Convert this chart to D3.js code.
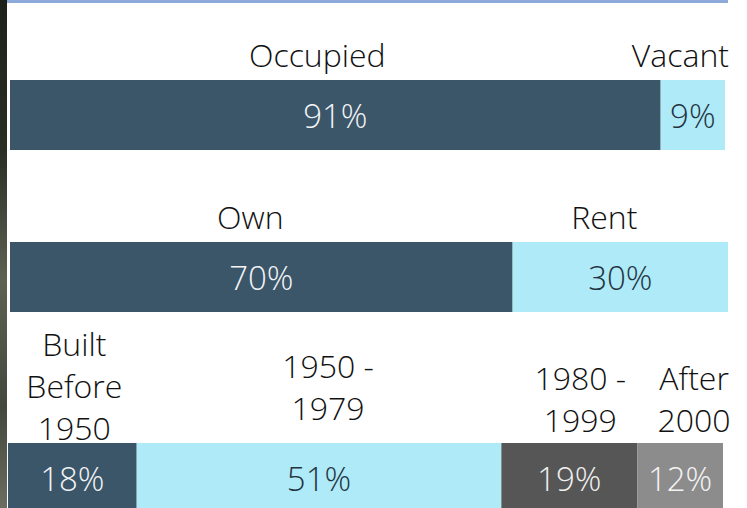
<!DOCTYPE html>
<html>
<head>
<meta charset="utf-8">
<script src="https://cdn.jsdelivr.net/npm/d3@7"></script>
<style>
  body { margin: 0; background: #fff; }
  svg { display: block; }
  text { font-family: "Open Sans", "Segoe UI", sans-serif; font-weight: 300; }
</style>
</head>
<body>
<div id="chart"></div>
<script>
// occupancy
const occupancyLabels = [['Occupied'], ['Vacant']]
const occupancyValues = [91, 9]

// tenure
const tenureLabels = [['Own'], ['Rent']]
const tenureValues = [70, 30]

// year built
const builtLabels = [['Built', 'Before', '1950'], ['1950 -', '1979'], ['1980 -', '1999'], ['After', '2000']]
const builtValues = [18, 51, 19, 12]

const W = 747, H = 508

// styling per row (nudge/lift = hand placement of the category labels)
const rows = [
  {labels: occupancyLabels, values: occupancyValues, fills: ['#3b5569', '#aeeaf8'], inks: ['#f2f4f6', '#24343f'],
    nudge: [-18, 0], lift: [0, 0], top: 80, x0: 10, x1: 725, edge: 729, labelGap: 13},
  {labels: tenureLabels, values: tenureValues, fills: ['#3b5569', '#aeeaf8'], inks: ['#f2f4f6', '#24343f'],
    nudge: [-11, -16], lift: [0, 0], top: 242, x0: 10, x1: 728, edge: 733, labelGap: 13},
  {labels: builtLabels, values: builtValues, fills: ['#3b5569', '#aeeaf8', '#565656', '#8c8c8c'], inks: ['#f2f4f6', '#24343f', '#f0f0f0', '#f4f4f4'],
    nudge: [2, 9, 11, 14], lift: [-8, 12, 0, 0], top: 443, x0: 8, x1: 723, edge: 742, labelGap: 11}
]
const barH = 70
const lineH = 42

const svg = d3.select('#chart').append('svg')
  .attr('width', W)
  .attr('height', H)

// photo strip on the left edge
const grad = svg.append('defs').append('linearGradient')
  .attr('id', 'strip')
  .attr('x1', 0).attr('x2', 0).attr('y1', 0).attr('y2', 1)
grad.append('stop').attr('offset', '0%').attr('stop-color', '#1d2119')
grad.append('stop').attr('offset', '30%').attr('stop-color', '#2a2f25')
grad.append('stop').attr('offset', '55%').attr('stop-color', '#5d6253')
grad.append('stop').attr('offset', '80%').attr('stop-color', '#44483c')
grad.append('stop').attr('offset', '100%').attr('stop-color', '#6a6d60')
svg.append('rect')
  .attr('x', 0).attr('y', 0)
  .attr('width', 7).attr('height', H)
  .attr('fill', 'url(#strip)')

// blue rule at the top
svg.append('rect')
  .attr('x', 7).attr('y', 0)
  .attr('width', 721).attr('height', 3)
  .attr('fill', '#8eaadb')

rows.forEach((row) => {
  let x = d3.scaleLinear()
    .domain([0, d3.sum(row.values)])
    .range([row.x0, row.x1])

  let cum = 0
  let segs = row.values.map((v, i) => {
    let s = {v: v, i: i, start: cum, end: cum + v, label: row.labels[i]}
    cum += v
    return s
  })

  let g = svg.append('g')

  g.selectAll('.seg')
    .data(segs)
    .enter()
    .append('rect')
    .classed('seg', true)
    .attr('x', (d) => x(d.start))
    .attr('y', row.top)
    .attr('width', (d) => x(d.end) - x(d.start))
    .attr('height', barH)
    .attr('fill', (d) => row.fills[d.i])

  g.selectAll('.val')
    .data(segs)
    .enter()
    .append('text')
    .classed('val', true)
    .attr('x', (d) => (x(d.start) + x(d.end)) / 2)
    .attr('y', row.top + barH / 2 + 13)
    .attr('text-anchor', 'middle')
    .attr('font-size', 33)
    .attr('fill', (d) => row.inks[d.i])
    .text((d) => d.v + '%')

  // category labels sit above their segment, kept inside the right edge
  let labs = g.selectAll('.cat')
    .data(segs)
    .enter()
    .append('text')
    .classed('cat', true)
    .attr('font-size', 32)
    .attr('fill', '#111')
    .attr('text-anchor', 'middle')

  labs.each(function (d) {
    let t = d3.select(this)
    let n = d.label.length
    d.label.forEach((line, k) => {
      t.append('tspan')
        .attr('x', 0)
        .attr('y', row.top - row.labelGap - row.lift[d.i] - (n - 1 - k) * lineH)
        .text(line)
    })
    let w = this.getBBox().width
    let cx = (x(d.start) + x(d.end)) / 2 + row.nudge[d.i]
    cx = Math.min(cx, row.edge - w / 2)
    t.selectAll('tspan').attr('x', cx)
  })
})
</script>
</body>
</html>
